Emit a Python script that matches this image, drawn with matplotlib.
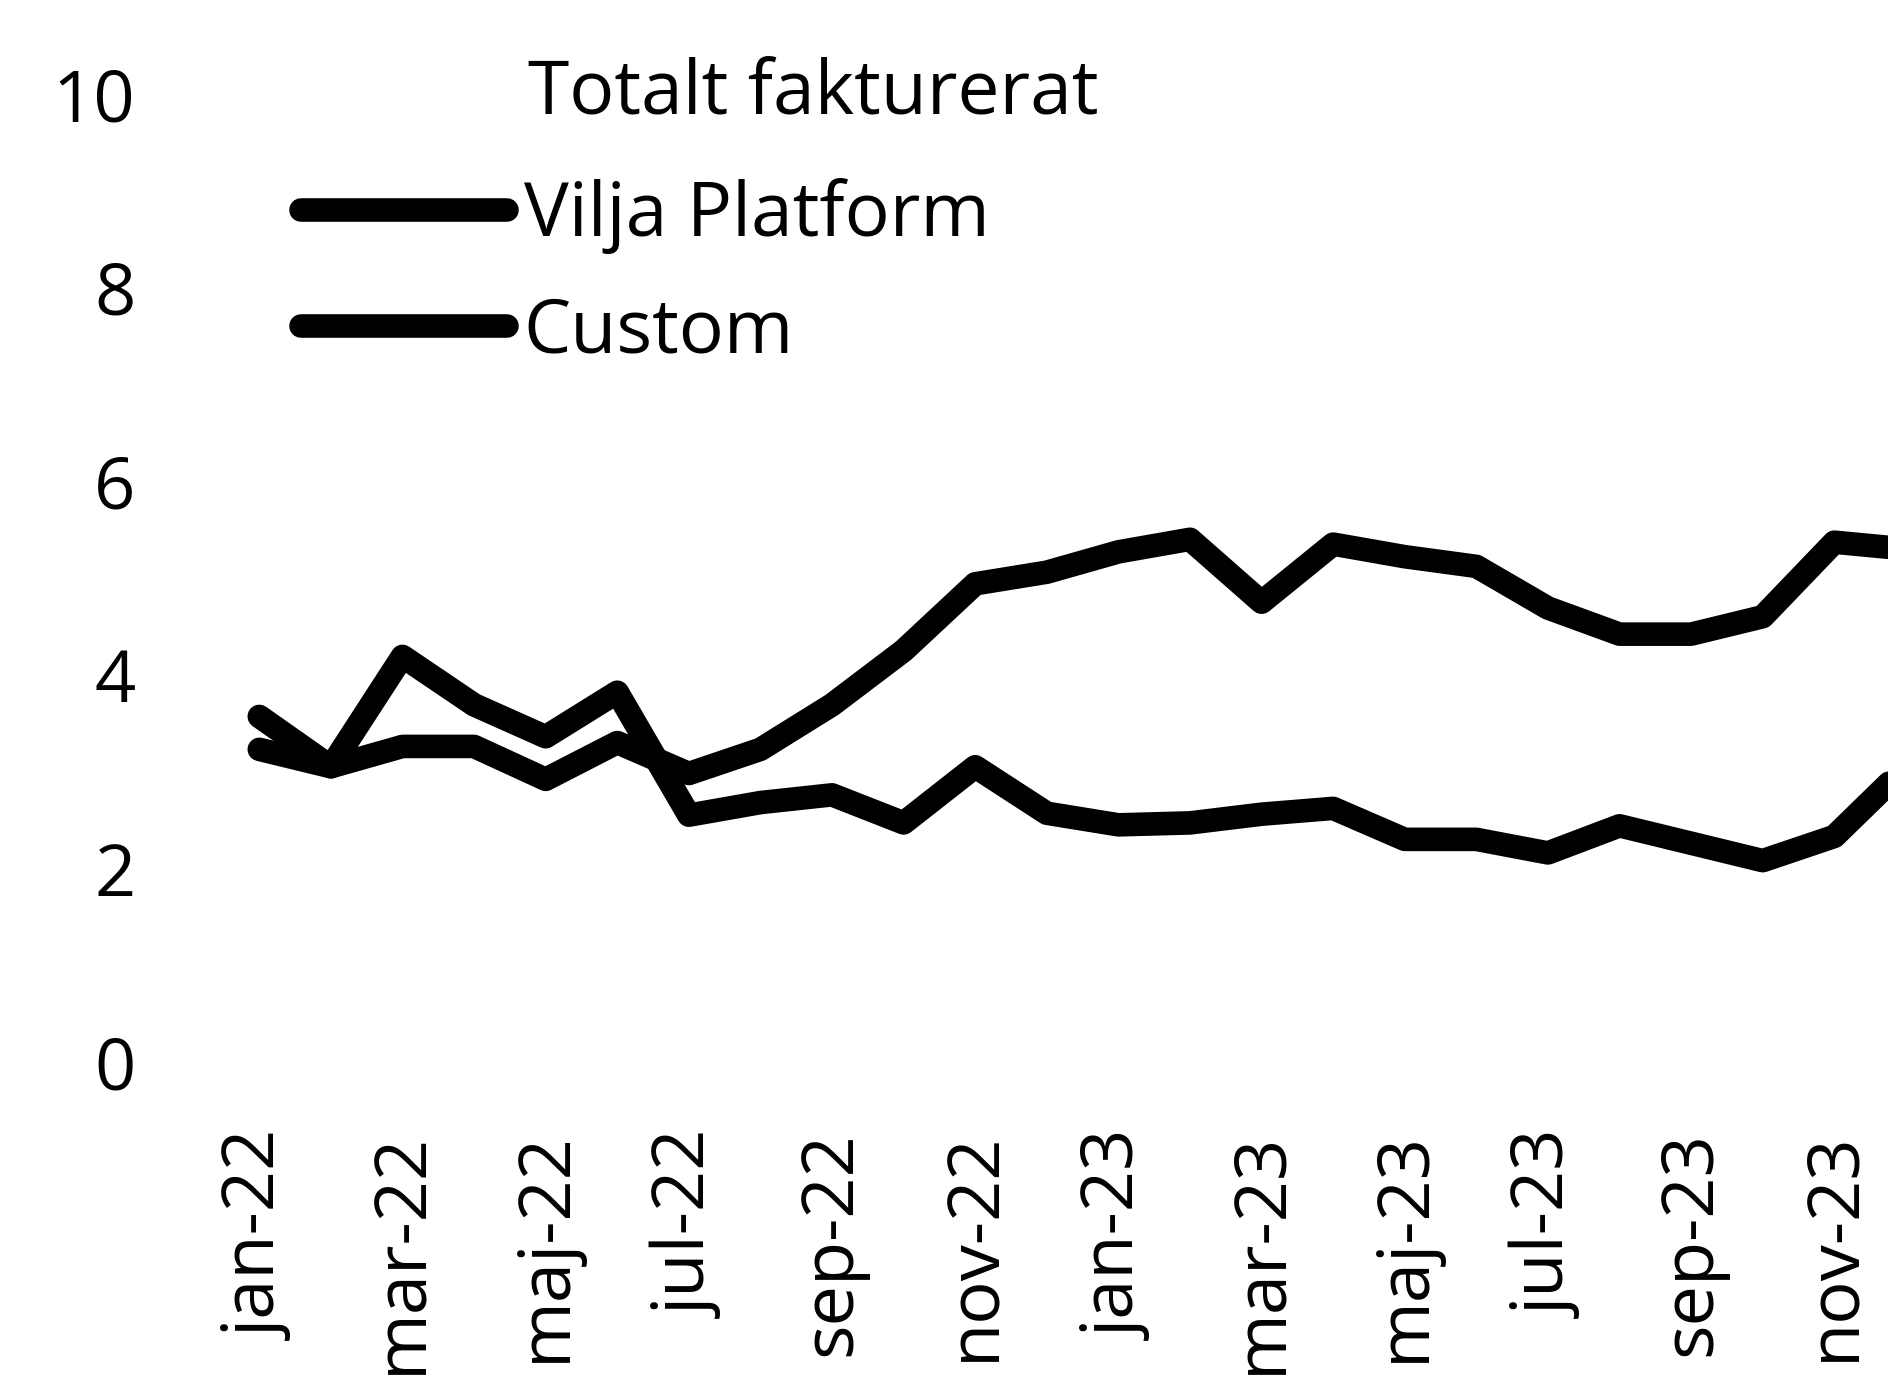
import matplotlib.pyplot as plt
import numpy as np

# values, one per month from jan-22
months = ['jan-22', 'feb-22', 'mar-22', 'apr-22', 'maj-22', 'jun-22',
          'jul-22', 'aug-22', 'sep-22', 'okt-22', 'nov-22', 'dec-22',
          'jan-23', 'feb-23', 'mar-23', 'apr-23', 'maj-23', 'jun-23',
          'jul-23', 'aug-23', 'sep-23', 'okt-23', 'nov-23', 'dec-23']
vilja = [3.23, 3.05, 3.26, 3.26, 2.92, 3.30, 2.98, 3.23, 3.69, 4.25, 4.94, 5.06,
         5.27, 5.40, 4.75, 5.35, 5.22, 5.12, 4.69, 4.42, 4.42, 4.60, 5.37, 5.30]
custom = [3.57, 3.05, 4.19, 3.69, 3.36, 3.82, 2.55, 2.68, 2.76, 2.47, 3.05, 2.57,
          2.45, 2.47, 2.56, 2.62, 2.30, 2.30, 2.16, 2.44, 2.26, 2.08, 2.33, 3.05]
tick_labels = months[::2]
title = "Totalt fakturerat"

plt.rcParams['font.family'] = ['Open Sans', 'DejaVu Sans']

fig = plt.figure(figsize=(18.88, 13.83), dpi=100)
ax = fig.add_axes([0.107, 1 - 1062 / 1383, 1 - 0.107, (1062 - 94) / 1383])

x = np.arange(len(months))
ax.plot(x, vilja, color='black', lw=17, solid_joinstyle='round',
        solid_capstyle='round', label='Vilja Platform')
ax.plot(x, custom, color='black', lw=17, solid_joinstyle='round',
        solid_capstyle='round', label='Custom')

ax.set_ylim(0, 10)
ax.set_xlim(-0.8, 22.75)
ax.set_yticks([0, 2, 4, 6, 8, 10])
ax.set_xticks(x[::2])
ax.set_xticklabels(tick_labels, rotation=90, va='top', ha='center')
ax.tick_params(axis='y', length=0, pad=48, labelsize=52)
ax.tick_params(axis='x', length=0, pad=50, labelsize=52)
for s in ax.spines.values():
    s.set_visible(False)

fig.text(528 / 1888, 1 - 94 / 1383, title, fontsize=54, va='center', ha='left')
ax.legend(loc='upper left', bbox_to_anchor=(301 / 1888, 1 - 178 / 1383),
          bbox_transform=fig.transFigure, frameon=False, fontsize=54,
          handlelength=2.75, handletextpad=0.22, labelspacing=0.55, borderpad=0,
          borderaxespad=0)

fig.savefig('out.png', dpi=100)
